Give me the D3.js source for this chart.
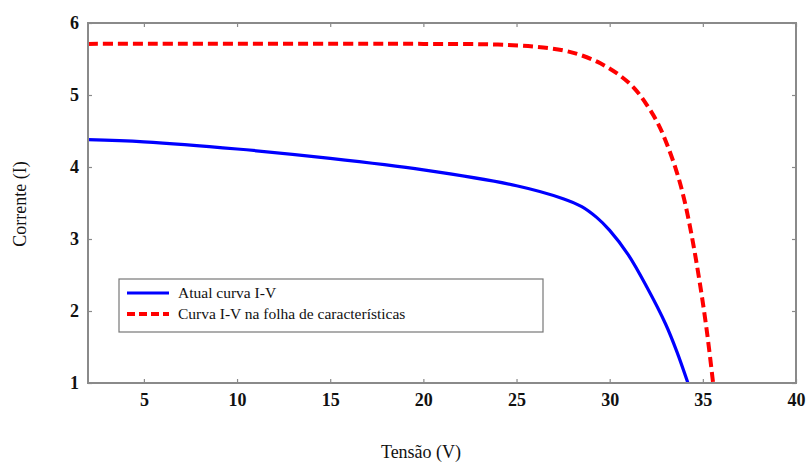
<!DOCTYPE html>
<html>
<head>
<meta charset="utf-8">
<script src="https://cdn.jsdelivr.net/npm/d3@7"></script>
<style>
  body { margin: 0; background: #fff; }
  svg text { font-family: "Liberation Serif", "DejaVu Serif", serif; }
</style>
</head>
<body>
<div id="chart"></div>
<script>
// values
var xTicks = [5, 10, 15, 20, 25, 30, 35, 40]
var yTicks = [1, 2, 3, 4, 5, 6]
var seriesNames = ["Atual curva I-V", "Curva I-V na folha de características"]

var actualV = [2, 5, 10, 15, 20, 25, 27.5, 28.5, 29.3, 30, 31, 32, 33, 33.6, 34.2]
var actualI = [4.38, 4.35, 4.25, 4.12, 3.96, 3.74, 3.56, 3.45, 3.3, 3.12, 2.78, 2.33, 1.82, 1.44, 1.0]

var sheetV = [2, 20, 24, 26, 27.5, 28.5, 29.5, 30.5, 31.3, 32, 32.6, 33.1, 33.6, 34, 34.4, 34.8, 35.2, 35.55]
var sheetI = [5.71, 5.71, 5.7, 5.67, 5.62, 5.55, 5.44, 5.28, 5.1, 4.86, 4.6, 4.3, 3.93, 3.55, 3.05, 2.45, 1.75, 1.0]

var width = 808, height = 462
var margin = {left: 88, right: 12, top: 23, bottom: 79}
var svg = d3.select("#chart").append("svg").attr("width", width).attr("height", height)

var x = d3.scaleLinear().domain([2, 40]).range([margin.left, width - margin.right])
var y = d3.scaleLinear().domain([1, 6]).range([height - margin.bottom, margin.top])

var defs = svg.append("defs")
defs.append("clipPath").attr("id", "plotclip").append("rect")
    .attr("x", x(2)).attr("y", y(6)).attr("width", x(40) - x(2)).attr("height", y(1) - y(6))

// curves
var line = d3.line().x(function(d){ return x(d[0]) }).y(function(d){ return y(d[1]) }).curve(d3.curveCatmullRom.alpha(0.5))
var plot = svg.append("g").attr("clip-path", "url(#plotclip)")
plot.append("path")
    .datum(d3.zip(actualV, actualI))
    .attr("d", line).attr("fill", "none").attr("stroke", "#0000ff").attr("stroke-width", 3.2)
plot.append("path")
    .datum(d3.zip(sheetV, sheetI))
    .attr("d", line).attr("fill", "none").attr("stroke", "#ff0000").attr("stroke-width", 4)
    .attr("stroke-dasharray", "10,5")

// axes with inward ticks on all four sides
var frameColor = "#8a8a8a"
var bottom = svg.append("g").attr("transform", "translate(0," + y(1) + ")")
    .call(d3.axisBottom(x).tickValues(xTicks).tickFormat(d3.format("d")).tickSizeInner(-4).tickSizeOuter(0).tickPadding(10))
var top = svg.append("g").attr("transform", "translate(0," + y(6) + ")")
    .call(d3.axisTop(x).tickValues(xTicks).tickSizeInner(-4).tickSizeOuter(0).tickFormat(""))
var left = svg.append("g").attr("transform", "translate(" + x(2) + ",0)")
    .call(d3.axisLeft(y).tickValues(yTicks).tickFormat(d3.format("d")).tickSizeInner(-4).tickSizeOuter(0).tickPadding(9))
var right = svg.append("g").attr("transform", "translate(" + x(40) + ",0)")
    .call(d3.axisRight(y).tickValues(yTicks).tickSizeInner(-4).tickSizeOuter(0).tickFormat(""))

svg.selectAll(".domain").remove()
svg.selectAll("g").attr("font-family", null).attr("font-size", null)
svg.selectAll(".tick line").attr("stroke", frameColor).attr("stroke-width", 1.2)
svg.selectAll(".tick text").attr("fill", "#111")
    .style("font-family", "'Liberation Serif', serif").style("font-size", "18px").style("font-weight", "700")

svg.append("rect")
    .attr("x", x(2)).attr("y", y(6)).attr("width", x(40) - x(2)).attr("height", y(1) - y(6))
    .attr("fill", "none").attr("stroke", frameColor).attr("stroke-width", 2)

// axis titles
svg.append("text").attr("x", 421).attr("y", 458).attr("text-anchor", "middle")
    .style("font-size", "18px").attr("fill", "#111").text("Tensão (V)")
svg.append("text").attr("transform", "translate(26,204) rotate(-90)").attr("text-anchor", "middle")
    .style("font-size", "18px").attr("fill", "#111").text("Corrente (I)")

// legend
var lg = svg.append("g")
lg.append("rect").attr("x", 119).attr("y", 279).attr("width", 424).attr("height", 53)
    .attr("fill", "#fff").attr("stroke", "#777").attr("stroke-width", 1.2)
var styles = [
    {color: "#0000ff", dash: null, w: 3.2},
    {color: "#ff0000", dash: "8,4", w: 4}
]
seriesNames.forEach(function(name, i){
    var yy = 293 + i * 21
    lg.append("line").attr("x1", 127).attr("x2", 169).attr("y1", yy).attr("y2", yy)
        .attr("stroke", styles[i].color).attr("stroke-width", styles[i].w)
        .attr("stroke-dasharray", styles[i].dash)
    lg.append("text").attr("x", 178).attr("y", yy + 5).style("font-size", "15.5px").attr("fill", "#111").text(name)
})
</script>
</body>
</html>
